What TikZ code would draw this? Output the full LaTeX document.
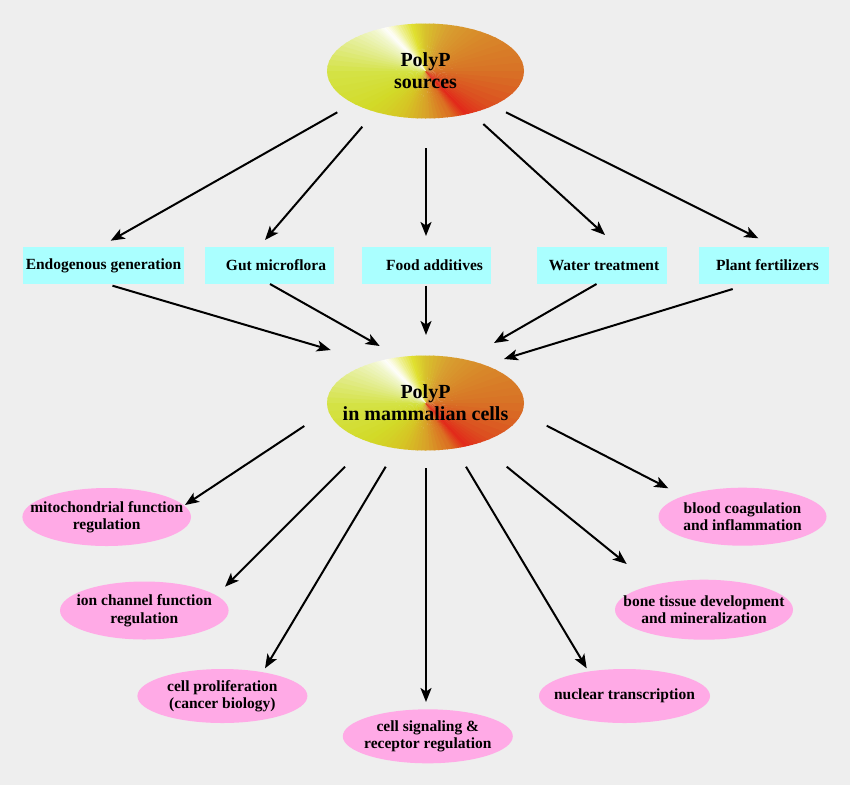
\documentclass[tikz,border=0pt]{standalone}
\usepackage{fontspec}
\setmainfont{Liberation Serif}
\usetikzlibrary{arrows.meta}
\pgfdeclarelayer{back}
\pgfsetlayers{back,main}
\definecolor{bgc}{HTML}{EEEEEE}
\definecolor{boxc}{HTML}{AAFFFF}
\definecolor{pinkc}{HTML}{FFAAE6}
\definecolor{gW}{HTML}{FFFFFF}
\definecolor{gA}{HTML}{F0F6C8}
\definecolor{gB}{HTML}{E2EC8C}
\definecolor{gC}{HTML}{D4E244}
\definecolor{gD}{HTML}{D2DA28}
\definecolor{gE}{HTML}{D6C424}
\definecolor{gF}{HTML}{D8A028}
\definecolor{gG}{HTML}{DC6A22}
\definecolor{gR}{HTML}{E22A1A}
\definecolor{gH}{HTML}{DC5020}
\definecolor{gI}{HTML}{D87426}
\definecolor{gJ}{HTML}{D88A2A}
\definecolor{gK}{HTML}{D8A030}
\definecolor{gL}{HTML}{D8C42C}
\definecolor{gM}{HTML}{E0E030}
\definecolor{gN}{HTML}{F2F4A8}
% conic colour fill of an ellipse around a named node
\newcommand\conicellipse[1]{%
  \begin{scope}
    \clip (#1.center) ellipse (98.5 and 47.5);
    \begin{scope}[shift={(#1.center)}]
    \foreach \a/\b/\ca/\cb in {132/142/gW/gA,142/160/gA/gB,160/180/gB/gC,180/210/gC/gD,210/240/gD/gE,240/270/gE/gF,270/300/gF/gG,300/312/gG/gR,312/330/gR/gH,330/360/gH/gI,360/390/gI/gJ,390/420/gJ/gK,420/450/gK/gL,450/465/gL/gM,465/482/gM/gN,482/492/gN/gW}{%
      \foreach \t in {0,...,5}{%
        \pgfmathtruncatemacro\p{\t*100/6}%
        \pgfmathsetmacro\s{\a+(\b-\a)*\t/6}%
        \pgfmathsetmacro\e{\a+(\b-\a)*(\t+1)/6+0.8}%
        \fill[\cb!\p!\ca] (0,0) -- (\s:220) -- (\e:220) -- cycle;
      }%
    }%
    \end{scope}
  \end{scope}%
}
\tikzset{
  boxnode/.style={fill=boxc, minimum height=37pt, inner sep=0pt,
    font=\fontsize{15.5}{18}\selectfont\bfseries},
  pinktext/.style={inner sep=0pt, align=center,
    font=\fontsize{15.5}{17.5}\selectfont\bfseries},
  srctext/.style={inner sep=0pt, align=center,
    font=\fontsize{20}{22}\selectfont\bfseries},
  pinkfill/.style={fill=pinkc},
  arr/.style={line width=2pt, -{Stealth[length=14pt,width=11pt,inset=3.5pt]}}
}
\begin{document}
\begin{tikzpicture}[x=1pt,y=1pt]
\begin{pgfonlayer}{back}
\fill[bgc] (0,0) rectangle (850,-785);
\end{pgfonlayer}
\useasboundingbox (0,0) rectangle (850,-785);

% main ellipses (text)
\node[srctext] (T) at (425.5,-71) {PolyP\\sources};
\node[srctext] (M) at (425.5,-403) {PolyP\\in mammalian cells};

% boxes
\node[boxnode, minimum width=161pt] (endo) at (103.5,-265.5) {Endogenous generation\hspace{3pt}};
\node[boxnode, minimum width=129pt] (gut) at (269.5,-265.5) {\hspace{13pt}Gut microflora};
\node[boxnode, minimum width=129pt] (food) at (426.5,-265.5) {\hspace{16pt}Food additives};
\node[boxnode, minimum width=130pt] (water) at (602,-265.5) {\hspace{4pt}Water treatment};
\node[boxnode, minimum width=130pt] (plant) at (764,-265.5) {\hspace{7pt}Plant fertilizers};

% outcome texts
\node[pinktext] (mito) at (106.7,-517) {mitochondrial function\\regulation};
\node[pinktext] (ion) at (144.3,-610.5) {ion channel function\\regulation};
\node[pinktext] (prolif) at (222.4,-696) {cell proliferation\\(cancer biology)};
\node[pinktext] (signal) at (427.8,-736.3) {cell signaling \&\\receptor regulation};
\node[pinktext] (nuclear) at (624.5,-696) {nuclear transcription};
\node[pinktext] (bone) at (704,-609.7) {bone tissue development\\and mineralization};
\node[pinktext] (blood) at (742.5,-516.7) {blood coagulation\\and inflammation};

\begin{pgfonlayer}{back}
\conicellipse{T}
\conicellipse{M}
\fill[pinkfill] (mito.center) ellipse (84.3 and 29);
\fill[pinkfill] (ion.center) ellipse (84.3 and 29);
\fill[pinkfill] (prolif.center) ellipse (85 and 27);
\fill[pinkfill] (signal.center) ellipse (85 and 27);
\fill[pinkfill] (nuclear.center) ellipse (85.5 and 27);
\fill[pinkfill] (bone.center) ellipse (89 and 30);
\fill[pinkfill] (blood.center) ellipse (84 and 29);
\end{pgfonlayer}

% sources -> boxes
\draw[arr] ([shift={(-88.2,-41.3)}]T.center) -- ([shift={(7.2,24.8)}]endo.center);
\draw[arr] ([shift={(-63.2,-55.7)}]T.center) -- ([shift={(-4.5,25.5)}]gut.center);
\draw[arr] ([shift={(0.5,-77.3)}]T.center) -- ([shift={(-0.5,29.5)}]food.center);
\draw[arr] ([shift={(57.8,-53)}]T.center) -- ([shift={(3,30.5)}]water.center);
\draw[arr] ([shift={(80.5,-41.3)}]T.center) -- ([shift={(-5.7,27.2)}]plant.center);

% boxes -> mammalian cells
\draw[arr] ([shift={(9,-20.2)}]endo.center) -- ([shift={(-94.8,53)}]M.center);
\draw[arr] ([shift={(0.5,-18.5)}]gut.center) -- ([shift={(-45.8,57)}]M.center);
\draw[arr] ([shift={(-0.5,-20.2)}]food.center) -- ([shift={(0.5,68)}]M.center);
\draw[arr] ([shift={(-5.5,-18.5)}]water.center) -- ([shift={(68.5,60)}]M.center);
\draw[arr] ([shift={(-31.3,-23.5)}]plant.center) -- ([shift={(78.5,44)}]M.center);

% mammalian cells -> outcomes
\draw[arr] ([shift={(-121.2,-23)}]M.center) -- ([shift={(78.3,12)}]mito.center);
\draw[arr] ([shift={(-80.5,-63.7)}]M.center) -- ([shift={(80.7,23.8)}]ion.center);
\draw[arr] ([shift={(-39.8,-63.7)}]M.center) -- ([shift={(42.6,27.7)}]prolif.center);
\draw[arr] ([shift={(0.5,-65.3)}]M.center) -- ([shift={(-1.8,34.3)}]signal.center);
\draw[arr] ([shift={(40.5,-63.7)}]M.center) -- ([shift={(-37.8,27.7)}]nuclear.center);
\draw[arr] ([shift={(81.2,-63.7)}]M.center) -- ([shift={(-77.3,45.7)}]bone.center);
\draw[arr] ([shift={(121.2,-22.7)}]M.center) -- ([shift={(-74.2,28.4)}]blood.center);
\end{tikzpicture}
\end{document}
